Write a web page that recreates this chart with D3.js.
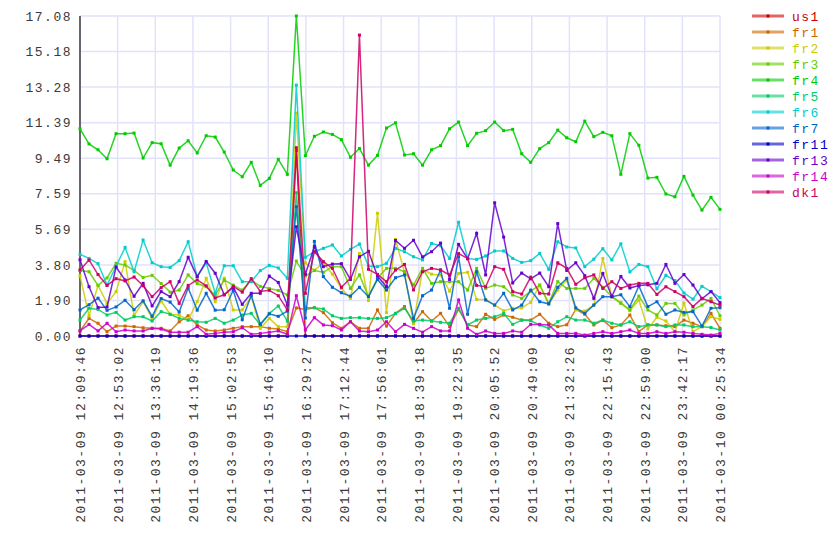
<!DOCTYPE html>
<html>
<head>
<meta charset="utf-8">
<script src="https://cdn.jsdelivr.net/npm/d3@7"></script>
<style>
  body { margin: 0; background: #fff; }
  text { font-family: "Liberation Mono", "DejaVu Sans Mono", monospace; letter-spacing: 1.5px; }
</style>
</head>
<body>
<script>
// tick labels on the time axis (one every 43 min)
const timeLabels = [
  '2011-03-09 12:09:46', '2011-03-09 12:53:02', '2011-03-09 13:36:19',
  '2011-03-09 14:19:36', '2011-03-09 15:02:53', '2011-03-09 15:46:10',
  '2011-03-09 16:29:27', '2011-03-09 17:12:44', '2011-03-09 17:56:01',
  '2011-03-09 18:39:18', '2011-03-09 19:22:35', '2011-03-09 20:05:52',
  '2011-03-09 20:49:09', '2011-03-09 21:32:26', '2011-03-09 22:15:43',
  '2011-03-09 22:59:00', '2011-03-09 23:42:17', '2011-03-10 00:25:34',
];
const yLabels = ['0.00', '1.90', '3.80', '5.69', '7.59', '9.49', '11.39', '13.28', '15.18', '17.08'];
const yMax = 17.08;

const seriesNames = ['us1', 'fr1', 'fr2', 'fr3', 'fr4', 'fr5', 'fr6', 'fr7', 'fr11', 'fr13', 'fr14', 'dk1'];
const seriesColors = ['#cc0000', '#cc6600', '#cccc00', '#66cc00', '#00cc00', '#00cc66',
  '#00cccc', '#0066cc', '#0000cc', '#6600cc', '#cc00cc', '#cc0066'];

const us1 = [0,0,0,0,0,0,0,0,0,0,0,0,0,0,0,0,0,0,0,0,0,0,0,0,
  9.9,0,0,0,0,0,0,0,0,0,0,0,0,0,0,0,0,0,0,0,0,0,0,0,
  0,0,0,0,0,0,0,0,0,0,0,0,0,0,0,0,0,0,0,0,0,0,0,0];
const fr1 = [0.27,0.94,0.68,0.23,0.53,0.53,0.50,0.44,0.41,0.41,0.27,0.76,1.08,0.59,0.32,0.27,0.32,0.41,0.50,0.50,0.50,0.41,0.37,0.23,
  1.5,1.42,1.51,1.25,0.71,0.41,0.76,0.41,0.41,1.39,0.53,1.21,1.57,0.68,1.3,0.8,1.21,0.50,1.42,0.6,0.50,1.16,0.89,1.12,
  1.0,0.85,0.85,1.16,0.68,0.5,0.6,1.42,1.16,0.59,0.85,0.44,0.59,1.12,0.23,0.6,0.59,0.55,0.5,0.85,0.68,0.50,1.21,0.41];
const fr2 = [3.22,1.08,2.70,1.74,2.37,3.97,1.10,1.83,0.94,1.87,1.16,1.12,0.85,1.83,3.08,1.83,3.08,1.39,1.39,2.10,0.41,0.94,0.50,0.50,
  11.9,3.9,3.5,3.91,3.3,2.54,2.01,4.4,1.89,6.55,1.25,5.15,3.4,0.65,3.55,3.3,3.25,2.4,3.34,3.4,1.95,1.95,1.65,1.35,
  1.48,1.5,1.80,2.72,1.69,2.45,2.99,1.39,1.33,1.65,4.14,2.10,1.8,1.35,1.92,0.38,1.0,0.8,0.23,1.75,0.23,0.50,1.03,0.89];
const fr3 = [3.50,3.43,2.70,3.10,3.88,3.79,3.50,3.12,3.24,2.80,2.34,2.45,3.26,2.80,2.63,2.19,2.99,2.72,2.45,2.99,2.65,2.53,2.43,2.19,
  4.0,3.2,3.5,3.4,3.70,3.70,2.54,3.26,2.10,3.08,3.61,3.61,3.43,2.72,3.61,2.81,2.90,2.90,2.90,2.45,3.61,2.54,2.72,2.63,
  2.19,2.01,2.4,2.72,1.74,2.90,2.54,2.54,2.54,3.08,2.6,2.10,1.74,1.39,2.13,1.39,1.12,1.74,1.74,1.12,1.39,1.65,2.01,1.08];
const fr4 = [11.06,10.25,9.94,9.46,10.80,10.80,10.83,9.50,10.32,10.26,9.12,10.03,10.42,9.77,10.69,10.62,9.82,8.86,8.50,9.27,8.04,8.41,9.43,8.63,
  17.08,9.62,10.66,10.89,10.76,10.48,9.54,10.01,9.12,9.64,11.10,11.38,9.66,9.73,9.12,9.94,10.16,11.06,11.42,10.16,10.82,10.96,11.42,10.96,
  11.03,9.73,9.27,10.0,10.32,10.99,10.58,10.37,11.47,10.64,10.87,10.69,8.63,10.80,10.18,8.43,8.47,7.58,7.43,8.52,7.52,6.72,7.40,6.76];
const fr5 = [0.85,1.48,1.42,1.12,1.26,0.85,1.03,1.03,0.80,1.30,1.16,0.94,0.85,0.76,0.73,0.94,0.68,0.85,1.12,1.21,0.59,1.21,1.60,0.80,
  7.65,1.51,1.51,1.44,1.08,0.94,0.98,0.98,0.94,0.94,0.98,1.2,1.48,0.80,0.85,0.80,0.73,0.68,1.48,0.59,0.85,0.94,1.03,1.21,
  0.62,0.85,0.82,0.59,0.41,0.76,1.03,0.85,0.85,0.68,0.85,0.68,0.59,0.76,0.50,0.59,0.59,0.50,0.59,0.59,0.50,0.50,0.45,0.32];
const fr6 = [4.36,4.14,3.86,2.72,3.72,4.73,3.43,5.12,3.91,3.70,3.66,4.02,5.03,3.17,3.91,2.28,3.75,3.75,2.90,2.90,3.49,3.77,3.63,3.08,
  13.39,4.20,4.50,4.68,4.86,4.27,4.62,4.91,3.74,3.70,3.88,4.68,4.50,4.23,4.06,4.94,4.82,4.14,6.07,4.14,4.09,4.27,4.54,4.54,
  4.14,3.93,4.02,4.41,3.56,5.03,4.75,4.70,3.70,4.10,4.66,4.06,4.92,3.42,3.82,3.70,2.52,3.24,2.96,2.30,1.97,2.65,2.37,2.05];
const fr7 = [1.39,1.67,2.02,1.37,1.55,1.91,1.40,1.88,1.05,2.0,1.81,1.28,2.56,1.38,2.28,1.38,1.4,2.44,0.87,2.17,0.63,1.18,1.05,1.33,
  6.90,0.96,5.05,3.17,2.60,2.31,2.13,2.60,2.10,3.02,2.45,3.11,3.26,0.94,2.15,2.45,3.52,1.48,4.23,1.16,3.43,1.92,1.65,2.28,
  1.39,1.65,2.45,1.83,1.72,2.60,3.08,1.50,1.21,1.65,2.10,2.10,2.2,1.57,2.67,1.57,1.83,1.16,1.39,1.26,1.3,0.53,1.48,1.51];
const fr11 = [0,0,0,0,0,0,0,0,0,0,0,0,0,0,0,0,0,0,0,0,0,0,0,0,
  0,0,0,0,0,0,0,0,0,0,0,0,0,0,0,0,0,0,0,0,0,0,0,0,
  0,0,0,0,0,0,0,0,0,0,0,0,0,0,0,0,0,0,0,0,0,0,0,0];
const fr13 = [4.07,2.63,1.52,1.55,3.68,2.99,2.12,2.81,1.61,2.37,2.10,2.90,4.20,3.17,3.98,3.35,2.2,2.6,1.69,2.28,2.28,3.20,2.86,1.65,
  5.83,3.29,4.77,3.70,3.84,3.86,3.02,4.23,4.52,3.20,2.63,5.10,4.68,5.11,4.22,4.50,4.96,3.02,4.89,4.12,5.48,3.26,7.11,5.28,
  2.83,3.36,3.05,3.36,2.63,6.0,3.5,3.91,3.22,2.01,3.34,2.10,3.18,2.56,2.70,2.73,2.81,3.82,2.81,3.28,2.72,1.99,2.37,1.78];
const fr14 = [0.27,0.62,0.27,0.68,0.23,0.32,0.27,0.27,0.41,0.37,0.20,0.20,0.20,0.50,0.09,0.14,0.20,0.23,0.44,0.09,0.14,0.20,0.27,0.09,
  2.15,0.32,0.98,0.59,0.55,0.32,0.76,0.27,0.23,0.32,0.76,0.23,0.62,0.41,0.20,0.50,0.27,0.27,1.92,0.41,0.09,0.27,0.14,0.14,
  0.27,0.20,0.62,0.62,0.59,0.14,0.14,0.14,0.05,0.14,0.23,0.14,0.23,0.32,0.14,0.14,0.23,0.14,0.23,0.20,0.14,0.09,0.05,0.14];
const dk1 = [3.52,4.06,3.28,2.70,3.06,2.94,3.15,2.68,2.10,2.58,2.90,1.74,2.70,2.99,2.68,2.03,2.20,2.65,2.34,3.06,2.38,2.44,2.15,1.39,
  10.05,2.28,4.50,3.97,3.61,2.60,3.08,16.06,3.56,3.29,2.90,3.52,3.82,2.46,3.43,3.61,3.52,3.26,4.4,4.14,2.7,2.63,3.70,3.56,
  2.37,2.24,3.14,2.28,2.24,3.91,3.61,2.76,3.11,3.26,2.54,2.90,2.54,2.72,2.81,2.81,2.22,2.63,2.37,2.10,1.57,2.01,1.83,1.65];

const seriesValues = [us1, fr1, fr2, fr3, fr4, fr5, fr6, fr7, fr11, fr13, fr14, dk1];

const margin = { top: 16, right: 120, bottom: 224, left: 80 };
const width = 840 - margin.left - margin.right;
const height = 560 - margin.top - margin.bottom;
const gridColor = '#e2e2fb';

const svg = d3.select('body').append('svg')
  .attr('width', 840)
  .attr('height', 560);

const group = svg.append('g')
  .attr('transform', `translate(${margin.left},${margin.top})`);

const nPoints = fr4.length;
const x = d3.scaleLinear().domain([0, nPoints - 1]).range([0, width]);
const xLab = d3.scalePoint().domain(timeLabels).range([0, width]);
const y = d3.scaleLinear().domain([0, yMax]).range([height, 0]);
const yTick = d3.scalePoint().domain(yLabels).range([height, 0]);

// grid
group.append('g')
  .selectAll('line')
  .data(yLabels)
  .enter().append('line')
  .attr('x1', 0).attr('x2', width)
  .attr('y1', d => yTick(d)).attr('y2', d => yTick(d))
  .attr('stroke', gridColor)
  .attr('stroke-width', 1.5);

group.append('g')
  .selectAll('line')
  .data(timeLabels)
  .enter().append('line')
  .attr('x1', d => xLab(d)).attr('x2', d => xLab(d))
  .attr('y1', 0).attr('y2', height)
  .attr('stroke', gridColor)
  .attr('stroke-width', 1.5);

// y axis
const yAxis = group.append('g')
  .call(d3.axisLeft(yTick).tickSize(0).tickPadding(8));
yAxis.select('.domain').remove();
yAxis.selectAll('text')
  .attr('font-size', '13px')
  .attr('fill', '#3a3a3a')
  .attr('font-family', '"Liberation Mono", monospace');

// x axis, labels turned
const xAxis = group.append('g')
  .attr('transform', `translate(0,${height})`)
  .call(d3.axisBottom(xLab).tickSize(0).tickPadding(0));
xAxis.select('.domain').remove();
xAxis.selectAll('text')
  .attr('font-size', '13px')
  .attr('fill', '#3a3a3a')
  .attr('font-family', '"Liberation Mono", monospace')
  .attr('transform', 'rotate(-90)')
  .attr('x', -10)
  .attr('y', 0)
  .attr('dy', '0.35em')
  .style('text-anchor', 'end');

group.append('line')
  .attr('x1', 0).attr('x2', 0)
  .attr('y1', 0).attr('y2', height)
  .attr('stroke', '#66666e')
  .attr('stroke-width', 2);

// series
const line = d3.line()
  .x((d, i) => x(i))
  .y(d => y(d));

seriesValues.forEach((vals, k) => {
  const g = group.append('g');
  g.append('path')
    .datum(vals)
    .attr('fill', 'none')
    .attr('stroke', seriesColors[k])
    .attr('stroke-opacity', 0.85)
    .attr('stroke-width', 1.5)
    .attr('d', line);
  g.selectAll('rect')
    .data(vals)
    .enter().append('rect')
    .attr('x', (d, i) => x(i) - 1.5)
    .attr('y', d => y(d) - 1.5)
    .attr('width', 3)
    .attr('height', 3)
    .attr('fill', seriesColors[k]);
});

// legend
const legend = svg.append('g')
  .selectAll('g')
  .data(seriesNames)
  .enter().append('g')
  .attr('transform', (d, i) => `translate(752,${16 + i * 16})`);

legend.append('line')
  .attr('x1', 0).attr('x2', 32)
  .attr('stroke', (d, i) => seriesColors[i])
  .attr('stroke-opacity', 0.6)
  .attr('stroke-width', 3);
legend.append('rect')
  .attr('x', 14.5).attr('y', -1.5)
  .attr('width', 3).attr('height', 3)
  .attr('fill', (d, i) => seriesColors[i]);
legend.append('text')
  .attr('x', 40)
  .attr('dy', '0.35em')
  .attr('font-size', '13px')
  .attr('fill', (d, i) => seriesColors[i])
  .text(d => d);
</script>
</body>
</html>
